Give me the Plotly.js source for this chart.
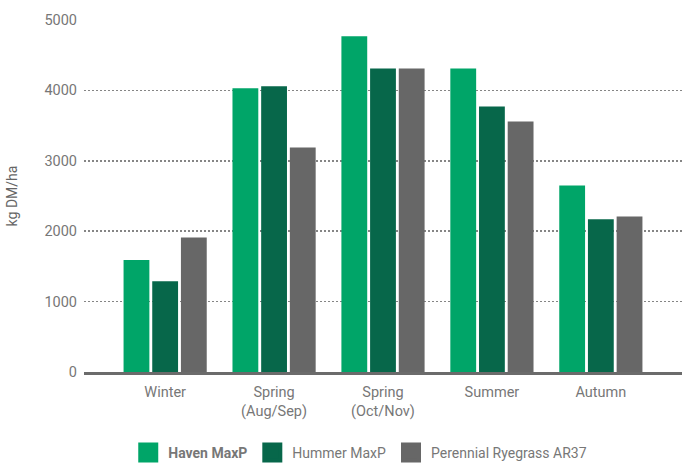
<!DOCTYPE html>
<html>
<head>
<meta charset="utf-8">
<script src="https://cdn.plot.ly/plotly-3.0.1.min.js"></script>
<style>html,body{margin:0;padding:0;background:#fff;}#chart{width:682px;height:464px;}</style>
</head>
<body>
<div id="chart"></div>
<script>
const categories = ["Winter", "Spring<br>(Aug/Sep)", "Spring<br>(Oct/Nov)", "Summer", "Autumn"];
const seriesNames = ["<b>Haven MaxP</b>", "Hummer MaxP", "Perennial Ryegrass AR37"];
const havenMaxP = [1590, 4030, 4770, 4310, 2650];
const hummerMaxP = [1290, 4060, 4310, 3770, 2170];
const perennialAR37 = [1910, 3190, 4310, 3560, 2210];
const yTicks = [0, 1000, 2000, 3000, 4000, 5000];
const colors = ["#00A568", "#07674A", "#676767"];

const seriesValues = [havenMaxP, hummerMaxP, perennialAR37];
const barTraces = seriesValues.map((vals, i) => ({
  type: "bar",
  name: seriesNames[i],
  x: categories,
  y: vals,
  marker: {color: colors[i]},
  showlegend: false,
  legendgroup: "g" + i
}));
// legend swatches (larger squares than the default bar swatch)
const legendTraces = seriesNames.map((n, i) => ({
  type: "scatter",
  mode: "markers",
  name: n,
  x: [categories[0]],
  y: [null],
  marker: {symbol: "square", size: 16, color: colors[i], line: {color: colors[i], width: 4}},
  legendgroup: "g" + i,
  showlegend: true
}));

const layout = {
  width: 682,
  height: 464,
  margin: {l: 84, r: 0, t: 20, b: 92},
  paper_bgcolor: "#ffffff",
  plot_bgcolor: "#ffffff",
  font: {family: "Roboto, sans-serif", color: "#777777", size: 14},
  barmode: "group",
  bargap: 0.21,
  bargroupgap: 0.1,
  showlegend: true,
  legend: {
    orientation: "h",
    x: 0.074,
    xanchor: "left",
    yref: "container",
    y: 11 / 464,
    yanchor: "middle",
    font: {size: 14, color: "#777777"},
    itemsizing: "trace",
    traceorder: "normal"
  },
  xaxis: {
    type: "category",
    range: [-0.745, 4.745],
    showgrid: false,
    zeroline: false,
    showline: true,
    linecolor: "#6b6b6b",
    linewidth: 2.5,
    ticks: "",
    ticklabelstandoff: 5,
    tickfont: {size: 14.5, color: "#777777"},
    fixedrange: true
  },
  yaxis: {
    range: [0, 5000],
    tickvals: yTicks,
    ticktext: yTicks.map(String),
    showgrid: true,
    gridcolor: "#858585",
    gridwidth: 1.5,
    griddash: "2px,2px",
    zeroline: false,
    showline: false,
    ticks: "",
    ticklabelstandoff: 6,
    tickfont: {size: 14.5, color: "#777777"},
    title: {text: "kg DM/ha", font: {size: 14, color: "#666666"}, standoff: 23},
    fixedrange: true
  }
};

Plotly.newPlot("chart", barTraces.concat(legendTraces), layout, {displayModeBar: false, staticPlot: true});
</script>
</body>
</html>
